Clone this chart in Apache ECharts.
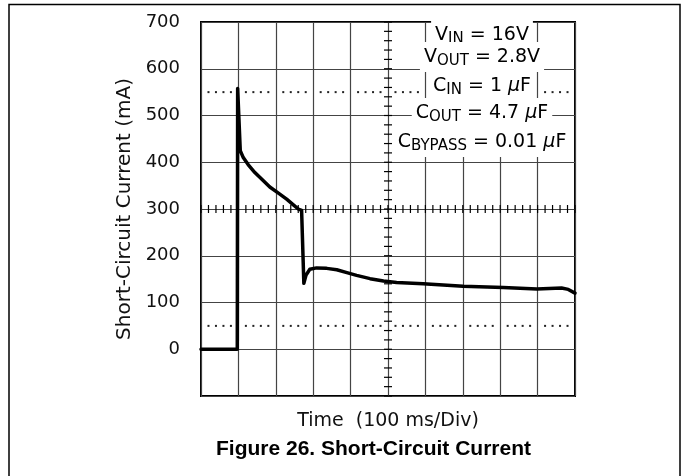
<!DOCTYPE html>
<html>
<head>
<meta charset="utf-8">
<script src="https://cdn.jsdelivr.net/npm/echarts@6/dist/echarts.min.js"></script>
<style>
  html, body { margin: 0; padding: 0; background: #fff; }
  #chart { width: 683px; height: 476px; }
</style>
</head>
<body>
<div id="chart"></div>
<script>
// 短路电流示波器曲线 (Time 100 ms/Div)
const timeMs = [0, 97, 98, 105, 113, 126, 144, 162, 184, 207, 229, 247, 260, 269, 275, 281, 291, 309, 336, 363, 390, 416, 452, 488, 523, 594, 701, 808, 898, 964, 982, 1000]
const currentMa = [0, 0, 558, 425, 410, 395, 378, 364, 347, 334, 321, 309, 300, 297, 141, 159, 171, 174, 173, 170, 164, 158, 151, 146, 143, 140, 135, 132, 129, 131, 128, 120]
const yTicks = [0, 100, 200, 300, 400, 500, 600, 700]
const dottedLevels = [50, 550]
const notes = [
  { text: '{m|V}{s|IN}{m| = 16V}', y: 35 },
  { text: '{m|V}{s|OUT}{m| = 2.8V}', y: 57 },
  { text: '{m|C}{s|IN}{m| = 1 }{u|μ}{m|F}', y: 86 },
  { text: '{m|C}{s|OUT}{m| = 4.7 }{u|μ}{m|F}', y: 113 },
  { text: '{m|C}{s|BYPASS}{m| = 0.01 }{u|μ}{m|F}', y: 142 }
]

const chart = echarts.init(document.getElementById('chart'))
const font = 'DejaVu Sans'

// 中心十字刻度 + 点线
function renderGraticule (params, api) {
  const children = []
  for (let v = 0; v <= 1000; v += 20) {
    const p = api.coord([v, 300])
    children.push({ type: 'line', shape: { x1: p[0], y1: p[1] - 4, x2: p[0], y2: p[1] + 4 }, style: { stroke: '#000', lineWidth: 1.2 } })
  }
  for (let v = -100; v <= 700; v += 20) {
    const p = api.coord([500, v])
    children.push({ type: 'line', shape: { x1: p[0] - 4, y1: p[1], x2: p[0] + 4, y2: p[1] }, style: { stroke: '#000', lineWidth: 1.2 } })
  }
  dottedLevels.forEach(level => {
    for (let v = 20; v < 1000; v += 20) {
      if (v % 100 === 0) continue
      const p = api.coord([v, level])
      children.push({ type: 'rect', shape: { x: p[0] - 1, y: p[1] - 1, width: 2, height: 2 }, style: { fill: '#222' } })
    }
  })
  return { type: 'group', children: children }
}

const option = {
  backgroundColor: '#fff',
  animation: false,
  title: {
    text: 'Figure 26. Short-Circuit Current',
    left: 216,
    top: 439,
    padding: 0,
    textStyle: { fontFamily: 'Liberation Sans', fontWeight: 'bold', fontSize: 21, color: '#000' }
  },
  grid: {
    left: 201,
    top: 22,
    width: 374,
    height: 374,
    show: true,
    borderColor: '#000',
    borderWidth: 2
  },
  xAxis: {
    type: 'value',
    min: 0,
    max: 1000,
    interval: 100,
    name: 'Time  (100 ms/Div)',
    nameLocation: 'middle',
    nameGap: 16,
    nameTextStyle: { fontFamily: font, fontSize: 19, color: '#111' },
    axisLine: { show: false },
    axisTick: { show: false },
    axisLabel: { show: false },
    splitLine: { show: true, lineStyle: { color: '#444', width: 1.2 } }
  },
  yAxis: {
    type: 'value',
    min: -100,
    max: 700,
    interval: 100,
    name: 'Short-Circuit Current (mA)',
    nameLocation: 'middle',
    nameGap: 64,
    nameTextStyle: { fontFamily: font, fontSize: 20, color: '#111' },
    axisLine: { show: false },
    axisTick: { show: false },
    axisLabel: {
      margin: 21,
      fontFamily: font,
      fontSize: 18,
      color: '#111',
      formatter: v => (yTicks.indexOf(v) >= 0 ? String(v) : '')
    },
    splitLine: { show: true, lineStyle: { color: '#444', width: 1.2 } }
  },
  series: [{
    type: 'custom',
    silent: true,
    renderItem: renderGraticule,
    data: [[0, 0]],
    z: 3
  }, {
    name: 'Short-Circuit Current',
    type: 'line',
    data: timeMs.map((t, i) => [t, currentMa[i]]),
    showSymbol: false,
    lineStyle: { color: '#000', width: 3.5, join: 'round', cap: 'round' },
    z: 5
  }],
  graphic: [
    {
      type: 'polyline',
      shape: { points: [[9, 476], [9, 4.5], [680, 4.5], [680, 476]] },
      style: { stroke: '#000', lineWidth: 1.5, fill: null },
      z: 10
    }
  ].concat(notes.map(n => ({
    type: 'text',
    x: 482,
    y: n.y,
    z: 20,
    style: {
      text: n.text,
      align: 'center',
      verticalAlign: 'middle',
      backgroundColor: '#fff',
      padding: [3, 4],
      rich: {
        m: { fontFamily: font, fontSize: 19, color: '#111' },
        s: { fontFamily: font, fontSize: 15, color: '#111', padding: [9, 0, 0, 0] },
        u: { fontFamily: font, fontSize: 19, fontStyle: 'italic', color: '#111' }
      }
    }
  })))
}

chart.setOption(option)
</script>
</body>
</html>
